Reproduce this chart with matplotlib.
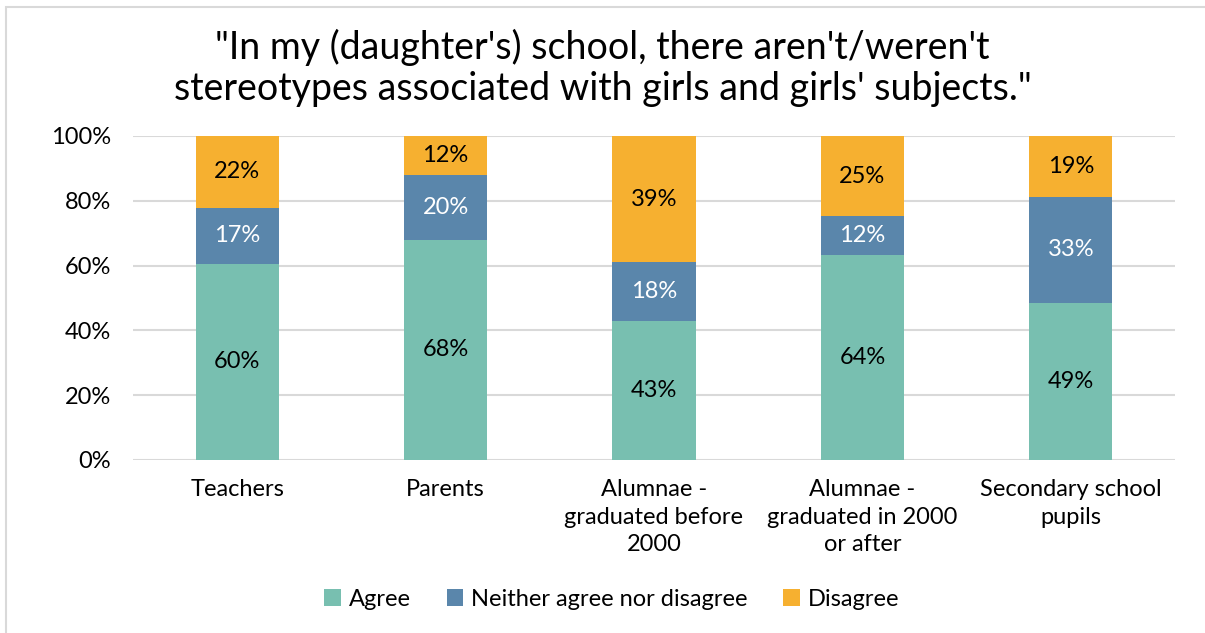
import matplotlib.pyplot as plt
import numpy as np
from matplotlib.patches import Rectangle

plt.rcParams['font.family'] = ['Lato', 'DejaVu Sans']

categories = ["Teachers", "Parents", "Alumnae -\ngraduated before\n2000",
              "Alumnae -\ngraduated in 2000\nor after", "Secondary school\npupils"]
agree = [60, 68, 43, 64, 49]
neither = [17, 20, 18, 12, 33]
disagree = [22, 12, 39, 25, 19]

series = [("Agree", agree, "#78BFB0", "black"),
          ("Neither agree nor disagree", neither, "#5A86AB", "white"),
          ("Disagree", disagree, "#F6B030", "black")]

W, H = 1205, 633
fig = plt.figure(figsize=(W / 100, H / 100), dpi=100)
fig.patches.append(Rectangle((6 / W, -0.01), 1.2, (H - 7) / H + 0.01, transform=fig.transFigure,
                             fill=False, edgecolor="#D9D9D9", linewidth=1.5))

ax = fig.add_axes([133 / W, 1 - 460 / H, (1175 - 133) / W, (460 - 136) / H])

totals = np.array(agree) + np.array(neither) + np.array(disagree)
x = np.arange(len(categories))
bottom = np.zeros(len(categories))
handles = []
for name, vals, color, tcolor in series:
    share = np.array(vals) / totals * 100
    b = ax.bar(x, share, 0.4, bottom=bottom, color=color, label=name, zorder=3)
    handles.append(b)
    for xi, s, bt, v in zip(x, share, bottom, vals):
        ax.text(xi, bt + s / 2, f"{v}%", ha="center", va="center", color=tcolor,
                fontsize=17, zorder=4)
    bottom += share

ax.set_xlim(-0.5, len(categories) - 0.5)
ax.set_ylim(0, 100)
ax.set_yticks(np.arange(0, 101, 20))
ax.set_yticklabels([f"{v}%" for v in range(0, 101, 20)], fontsize=17)
ax.set_xticks(x)
ax.set_xticklabels(categories, fontsize=17, linespacing=1.38)
ax.tick_params(length=0)
ax.tick_params(axis="y", pad=16)
ax.tick_params(axis="x", pad=14)
ax.grid(axis="y", color="#D9D9D9", linewidth=1.5, zorder=0)
for s in ax.spines.values():
    s.set_visible(False)

fig.text(0.5, 1 - 68 / H, "\"In my (daughter's) school, there aren't/weren't\nstereotypes associated with girls and girls' subjects.\"",
         ha="center", va="center", fontsize=27, linespacing=1.15)

fig.legend(handles=handles, loc="center", bbox_to_anchor=(612 / W, 1 - 599 / H), ncol=3,
           frameon=False, fontsize=17, handlelength=0.7, handleheight=0.7,
           handletextpad=0.35, columnspacing=1.5)

fig.savefig("out.png", dpi=100)
